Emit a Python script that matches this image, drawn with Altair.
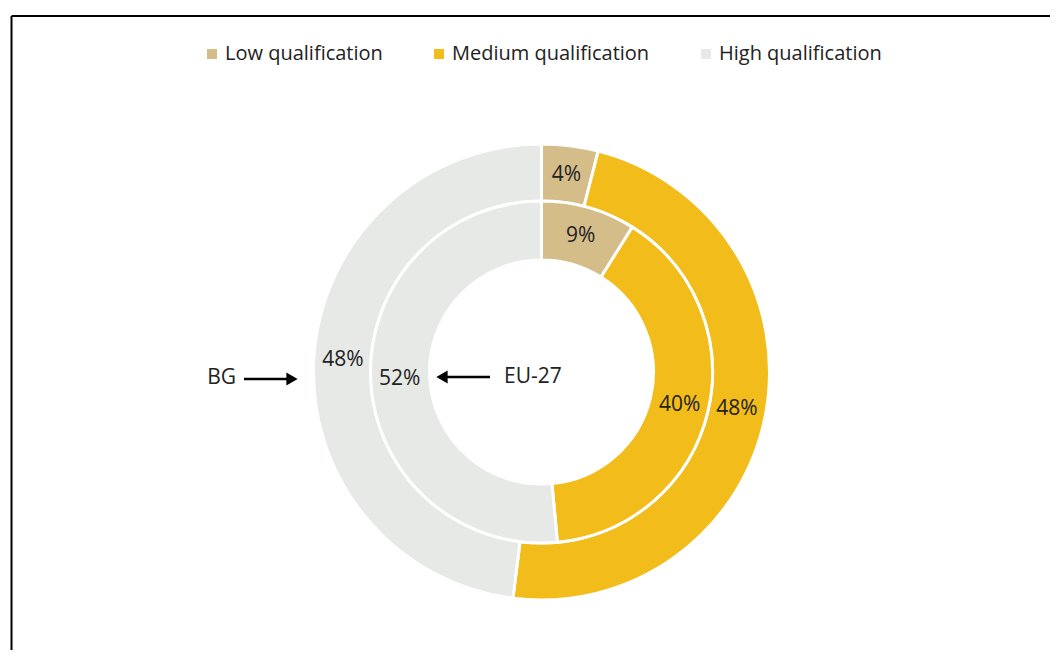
import altair as alt
import pandas as pd

categories = ["Low qualification", "Medium qualification", "High qualification"]
colors = ["#D5BD8A", "#F2BC1A", "#E6E9E6"]
rings = ["BG", "EU-27"]
bg_values = [4, 48, 48]
eu_values = [9, 40, 52]
bg_labels = ["4%", "48%", "48%"]
eu_labels = ["9%", "40%", "52%"]

rows = []
for ring_name, vals, labs in [("BG", bg_values, bg_labels), ("EU-27", eu_values, eu_labels)]:
    for i, c in enumerate(categories):
        rows.append({"ring": ring_name, "cat": c, "order": i, "value": vals[i], "label": labs[i]})
df = pd.DataFrame(rows)

CX, CY = 533.5, 364
FONT = "Open Sans"
TXT = "#222222"
FS = 21

color = alt.Color(
    "cat:N",
    scale=alt.Scale(domain=categories, range=colors),
    legend=alt.Legend(
        title=None, orient="none", legendX=194, legendY=36, direction="horizontal",
        columns=3, symbolType="square", symbolSize=100, symbolStrokeWidth=0,
        labelFont=FONT, labelFontSize=FS - 1, labelColor=TXT, labelOffset=3,
        labelLimit=400, columnPadding=46,
    ),
)

base = alt.Chart(df)


def ring(name, r_out, r_in, r_lab):
    b = base.transform_filter(alt.datum.ring == name).encode(
        theta=alt.Theta("value:Q", stack="normalize"),
        order=alt.Order("order:Q"),
        x=alt.value(CX),
        y=alt.value(CY),
    )
    arc = b.mark_arc(radius=r_out, radius2=r_in, stroke="white", strokeWidth=3).encode(color=color)
    txt = b.mark_text(radius=r_lab, font=FONT, fontSize=FS, color=TXT).encode(text="label:N")
    return arc, txt


outer_arc, outer_txt = ring("BG", 228, 171, 199)
inner_arc, inner_txt = ring("EU-27", 171, 112, 142)

one = alt.Chart(pd.DataFrame({"a": [0]}))

bg_text = one.mark_text(text="BG", align="right", baseline="middle", font=FONT, fontSize=FS, color=TXT).encode(
    x=alt.value(228), y=alt.value(370))
bg_line = one.mark_rule(strokeWidth=2.5, color="black").encode(
    x=alt.value(236), x2=alt.value(282), y=alt.value(371))
bg_head = one.mark_point(shape="triangle-right", filled=True, size=170, color="black", opacity=1).encode(
    x=alt.value(284), y=alt.value(371))

eu_text = one.mark_text(text="EU-27", align="left", baseline="middle", font=FONT, fontSize=FS, color=TXT).encode(
    x=alt.value(496), y=alt.value(369))
eu_line = one.mark_rule(strokeWidth=2.5, color="black").encode(
    x=alt.value(437), x2=alt.value(482), y=alt.value(369))
eu_head = one.mark_point(shape="triangle-left", filled=True, size=170, color="black", opacity=1).encode(
    x=alt.value(434), y=alt.value(369))

frame_top = one.mark_rule(strokeWidth=2, color="black").encode(
    x=alt.value(3.5), x2=alt.value(1042), y=alt.value(8))
frame_left = one.mark_rule(strokeWidth=2, color="black").encode(
    x=alt.value(3.5), y=alt.value(8), y2=alt.value(642))

chart = alt.layer(
    outer_arc, inner_arc, outer_txt, inner_txt,
    bg_text, bg_line, bg_head, eu_text, eu_line, eu_head,
    frame_top, frame_left,
).properties(
    width=1042, height=642, padding=0,
    autosize=alt.AutoSizeParams(type="none"),
    background="white",
).configure_view(stroke=None)

chart.save("out.html", embed_options={"renderer": "svg", "actions": False})
